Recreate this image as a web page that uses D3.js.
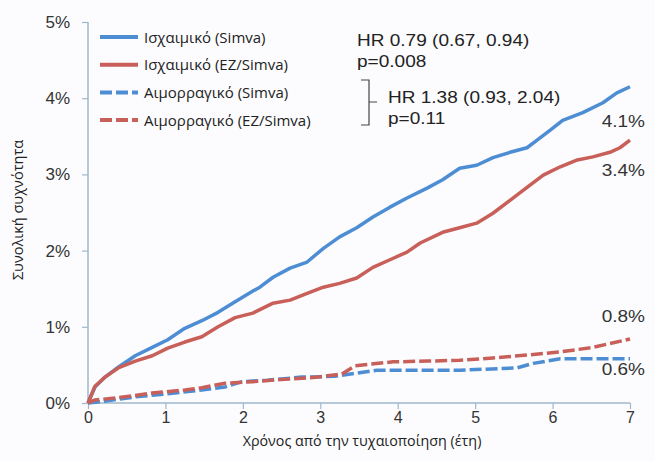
<!DOCTYPE html>
<html>
<head>
<meta charset="utf-8">
<script src="https://cdn.jsdelivr.net/npm/d3@7"></script>
<style>
  body { margin: 0; background: #fcfcfe; }
  svg { display: block; }
</style>
</head>
<body>
<svg id="chart"></svg>
<script>
    "use strict";

    // years since randomisation
    var ischSimvaT = [0, 0.09, 0.22, 0.39, 0.61, 0.83, 1.03, 1.25, 1.47, 1.68, 1.90, 2.13, 2.22, 2.39, 2.61, 2.83, 3.04, 3.25, 3.47, 3.68, 3.90, 4.12, 4.38, 4.58, 4.80, 5.02, 5.23, 5.45, 5.67, 5.80, 5.97, 6.13, 6.39, 6.65, 6.83, 7.00];
    var ischSimvaV = [0, 0.21, 0.34, 0.47, 0.62, 0.73, 0.83, 0.98, 1.08, 1.19, 1.33, 1.47, 1.52, 1.65, 1.77, 1.85, 2.03, 2.18, 2.30, 2.44, 2.57, 2.69, 2.82, 2.93, 3.08, 3.12, 3.22, 3.29, 3.35, 3.45, 3.58, 3.71, 3.81, 3.94, 4.07, 4.15];

    var ischEzT = [0, 0.09, 0.22, 0.39, 0.61, 0.83, 1.03, 1.25, 1.47, 1.68, 1.90, 2.13, 2.39, 2.61, 2.83, 3.04, 3.25, 3.47, 3.68, 3.90, 4.12, 4.29, 4.58, 4.80, 5.02, 5.23, 5.45, 5.67, 5.88, 6.10, 6.32, 6.52, 6.74, 6.87, 7.00];
    var ischEzV = [0, 0.22, 0.34, 0.46, 0.55, 0.62, 0.72, 0.80, 0.87, 1.00, 1.12, 1.18, 1.31, 1.35, 1.44, 1.52, 1.57, 1.64, 1.78, 1.88, 1.98, 2.10, 2.24, 2.30, 2.36, 2.49, 2.66, 2.83, 2.99, 3.10, 3.19, 3.23, 3.29, 3.35, 3.45];

    var hemSimvaT = [0, 0.18, 0.61, 1.03, 1.47, 1.77, 1.99, 2.32, 2.76, 3.19, 3.45, 3.73, 4.80, 5.54, 5.75, 6.10, 7.00];
    var hemSimvaV = [0, 0.02, 0.08, 0.12, 0.17, 0.21, 0.28, 0.30, 0.34, 0.35, 0.39, 0.43, 0.43, 0.46, 0.52, 0.58, 0.58];

    var hemEzT = [0, 0.09, 0.39, 0.83, 1.25, 1.47, 1.77, 2.12, 2.54, 2.97, 3.28, 3.45, 3.94, 4.38, 4.80, 5.23, 5.67, 6.10, 6.52, 7.00];
    var hemEzV = [0, 0.04, 0.07, 0.13, 0.17, 0.20, 0.26, 0.28, 0.31, 0.34, 0.38, 0.49, 0.54, 0.55, 0.56, 0.59, 0.63, 0.67, 0.73, 0.84];

    var seriesNames = ["Ισχαιμικό (Simva)", "Ισχαιμικό (EZ/Simva)", "Αιμορραγικό (Simva)", "Αιμορραγικό (EZ/Simva)"];
    var endLabels = ["4.1%", "3.4%", "0.6%", "0.8%"];
    var xTicks = [0, 1, 2, 3, 4, 5, 6, 7];
    var yTicks = [0, 1, 2, 3, 4, 5];
    var hrIsch = ["HR 0.79 (0.67, 0.94)", "p=0.008"];
    var hrHem = ["HR 1.38 (0.93, 2.04)", "p=0.11"];

    var width = 655, height = 461;
    var blue = "#4d8dd3", red = "#c85f59";
    var axisColor = "#9fb8cc";
    var armFont = "'Liberation Sans', Arial, sans-serif";
    var humFont = "'Open Sans', 'Noto Sans', sans-serif";

    var zip = function(ts, vs) {
        return ts.map(function(t, i) { return { t: t, v: vs[i] }; });
    };

    var series = [
        { name: seriesNames[0], color: blue, dash: null, pts: zip(ischSimvaT, ischSimvaV), label: endLabels[0] },
        { name: seriesNames[1], color: red, dash: null, pts: zip(ischEzT, ischEzV), label: endLabels[1] },
        { name: seriesNames[2], color: blue, dash: "12,4", pts: zip(hemSimvaT, hemSimvaV), label: endLabels[2] },
        { name: seriesNames[3], color: red, dash: "12,4", pts: zip(hemEzT, hemEzV), label: endLabels[3] }
    ];

    var svg = d3.select("#chart")
        .attr("width", width)
        .attr("height", height);

    var x = d3.scaleLinear().domain([0, 7]).range([88, 630]);
    var y = d3.scaleLinear().domain([0, 5]).range([403, 22]);

    // y axis
    var yAxis = svg.append("g")
        .attr("transform", "translate(" + x(0) + ",0)")
        .call(d3.axisLeft(y).tickValues(yTicks).tickSize(6).tickPadding(12)
            .tickFormat(function(d) { return d + "%"; }));
    yAxis.select(".domain").attr("stroke", axisColor).attr("stroke-width", 1.5).attr("d", "M0," + y(5) + "V" + y(0));
    yAxis.selectAll(".tick line").attr("stroke", axisColor).attr("stroke-width", 1.2);
    yAxis.selectAll(".tick text")
        .attr("fill", "#333")
        .attr("font-family", armFont)
        .attr("font-size", 17);

    // x axis
    var xAxis = svg.append("g")
        .attr("transform", "translate(0," + y(0) + ")")
        .call(d3.axisBottom(x).tickValues(xTicks).tickSize(6).tickPadding(3)
            .tickFormat(d3.format("d")));
    xAxis.select(".domain").attr("stroke", axisColor).attr("stroke-width", 1.5).attr("d", "M" + x(0) + ",0H" + x(7));
    xAxis.selectAll(".tick line").attr("stroke", axisColor).attr("stroke-width", 1.2);
    xAxis.selectAll(".tick text")
        .attr("fill", "#333")
        .attr("font-family", armFont)
        .attr("font-size", 16);

    // axis titles
    svg.append("text")
        .text("Χρόνος από την τυχαιοποίηση (έτη)")
        .attr("x", 362)
        .attr("y", 446)
        .attr("text-anchor", "middle")
        .attr("font-family", humFont)
        .attr("font-size", 14.3)
        .attr("fill", "#222");

    svg.append("text")
        .text("Συνολική συχνότητα")
        .attr("transform", "translate(23,210)rotate(-90)")
        .attr("text-anchor", "middle")
        .attr("font-family", humFont)
        .attr("font-size", 14.5)
        .attr("fill", "#222");

    // curves
    var line = d3.line()
        .x(function(d) { return x(d.t); })
        .y(function(d) { return y(d.v); });

    series.forEach(function(s) {
        svg.append("path")
            .datum(s.pts)
            .attr("d", line)
            .attr("fill", "none")
            .attr("stroke", s.color)
            .attr("stroke-width", 3.5)
            .attr("stroke-linejoin", "round")
            .attr("stroke-dasharray", s.dash);
    });

    // end labels (slightly widened like the source)
    var endY = { "4.1%": 127, "3.4%": 176, "0.8%": 322, "0.6%": 375 };
    series.forEach(function(s) {
        svg.append("text")
            .text(s.label)
            .attr("transform", "translate(645," + endY[s.label] + ")scale(1.12,1)")
            .attr("text-anchor", "end")
            .attr("font-family", armFont)
            .attr("font-size", 17)
            .attr("fill", "#333");
    });

    // legend
    var legend = svg.append("g");
    series.forEach(function(s, i) {
        var ly = 37 + i * 27.7;
        legend.append("line")
            .attr("x1", 100).attr("x2", 138)
            .attr("y1", ly).attr("y2", ly)
            .attr("stroke", s.color)
            .attr("stroke-width", 4)
            .attr("stroke-dasharray", s.dash);
        legend.append("text")
            .text(s.name)
            .attr("x", 144)
            .attr("y", ly + 5.5)
            .attr("font-family", humFont)
            .attr("font-size", 15)
            .attr("fill", "#222");
    });

    // HR annotations
    hrIsch.forEach(function(t, i) {
        svg.append("text")
            .text(t)
            .attr("transform", "translate(357," + (46 + i * 21) + ")scale(1.12,1)")
            .attr("font-family", armFont)
            .attr("font-size", 17)
            .attr("fill", "#222");
    });
    hrHem.forEach(function(t, i) {
        svg.append("text")
            .text(t)
            .attr("transform", "translate(388," + (103 + i * 21) + ")scale(1.12,1)")
            .attr("font-family", armFont)
            .attr("font-size", 17)
            .attr("fill", "#222");
    });

    // bracket
    svg.append("path")
        .attr("d", "M361,80H369V125H361M369,102H377")
        .attr("fill", "none")
        .attr("stroke", "#444")
        .attr("stroke-width", 1.2);
</script>
</body>
</html>
